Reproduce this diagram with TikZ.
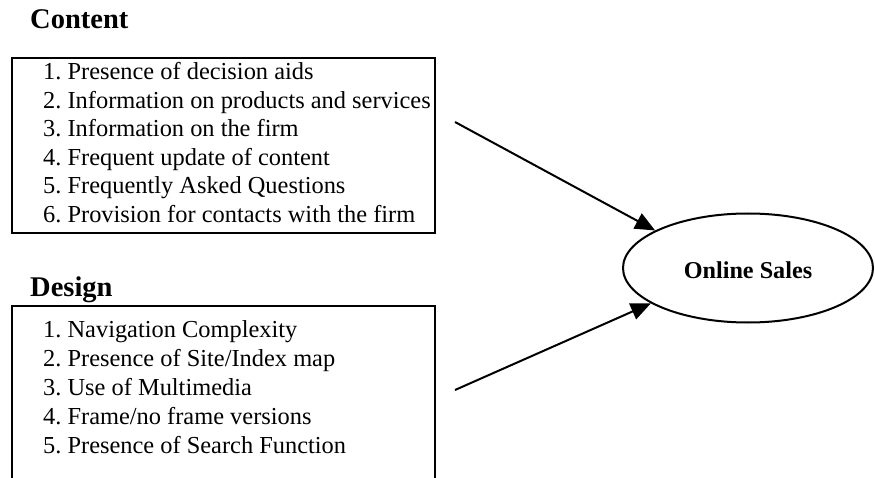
\documentclass[tikz,border=0pt]{standalone}
\usepackage{fontspec}
\setmainfont{Liberation Serif}
\usepackage{tikz}
\usetikzlibrary{positioning,shapes.geometric,arrows.meta}

\tikzset{
    heading/.style={anchor=base west,inner sep=0pt,font=\bfseries\fontsize{28.5}{32}\selectfont},
    itembox/.style={draw,line width=2pt,rectangle,anchor=north west,minimum width=423pt,inner sep=0pt},
    item/.style={anchor=base west,inner sep=0pt,font=\fontsize{24.4}{29}\selectfont},
    link/.style={line width=2pt,-{Triangle[length=20pt,width=17pt]}}
}

\begin{document}
\begin{tikzpicture}[x=1pt,y=-1pt]
    \useasboundingbox (0,0) rectangle (875,478);
    \clip (0,0) rectangle (875,478);
    % content block
    \node[heading] (content) at (30,29) {Content};
    \node[itembox,minimum height=175pt] (contentbox) at (11,57) {};
    \foreach \txt [count=\i] in {Presence of decision aids,
            Information on products and services,
            Information on the firm,
            Frequent update of content,
            Frequently Asked Questions,
            Provision for contacts with the firm}
        \node[item] (citem\i) at (43,{80+28.5*(\i-1)}) {\i.\ \txt};
    % design block, runs off the bottom edge
    \node[heading] (design) at (30,296) {Design};
    \node[itembox,minimum height=200pt] (designbox) at (11,305) {};
    \foreach \txt [count=\i] in {Navigation Complexity,
            Presence of Site/Index map,
            Use of Multimedia,
            Frame/no frame versions,
            Presence of Search Function}
        \node[item] (ditem\i) at (43,{337+29*(\i-1)}) {\i.\ \txt};
    % outcome
    \node[
        draw,
        ellipse,
        line width=2pt,
        minimum width=250pt,
        minimum height=109pt,
        inner sep=0pt,
        text height=22pt,
        font=\bfseries\fontsize{24.2}{28}\selectfont
    ] (sales) at (748,268) {Online Sales};
    \coordinate (cstart) at (455,122);
    \coordinate (dstart) at (455,390);
    \draw[link] (cstart) -- (sales.158);
    \draw[link] (dstart) -- (sales.200);
\end{tikzpicture}
\end{document}
